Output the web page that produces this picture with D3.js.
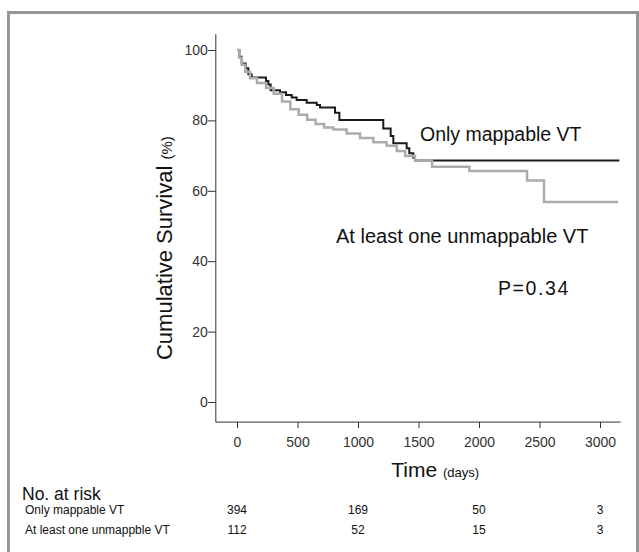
<!DOCTYPE html>
<html>
<head>
<meta charset="utf-8">
<script src="https://cdn.jsdelivr.net/npm/d3@7"></script>
<style>
  html, body { margin: 0; padding: 0; background: #fff; }
  svg { display: block; }
  text { font-family: "Liberation Sans", Arial, sans-serif; }
</style>
</head>
<body>
<svg id="chart" width="639" height="552"></svg>
<script>
// ---- data ----
const xTicks = [0, 500, 1000, 1500, 2000, 2500, 3000];
const yTicks = [0, 20, 40, 60, 80, 100];

// Only mappable VT (black) : [days, survival %]
const mappableTime = [0, 19, 39, 72, 94, 121, 240, 259, 278, 355, 405, 452, 493, 576, 659, 686, 810, 846, 1209, 1270, 1292, 1402, 1424, 1457, 1471, 3160];
const mappableSurv = [100, 98.1, 96.2, 94.8, 93.1, 92.2, 91.2, 90.2, 88.6, 88.0, 87.2, 86.5, 85.8, 85.0, 84.4, 83.7, 82.2, 80.1, 77.7, 75.6, 73.5, 72.1, 70.7, 69.4, 68.6, 68.6];

// At least one unmappable VT (grey)
const unmapTime = [0, 20, 40, 68, 108, 165, 240, 303, 372, 441, 510, 580, 650, 720, 796, 906, 1017, 1127, 1237, 1320, 1390, 1471, 1612, 1920, 2397, 2537, 3150];
const unmapSurv = [100, 97.8, 95.8, 93.8, 92.0, 90.6, 89.2, 87.6, 85.4, 83.2, 81.6, 80.2, 79.0, 78.0, 77.4, 76.3, 75.0, 73.8, 72.8, 71.3, 69.9, 68.6, 66.8, 65.6, 62.9, 56.8, 56.8];

const riskTimes = [0, 1000, 2000, 3000];
const riskMappable = [394, 169, 50, 3];
const riskUnmap = [112, 52, 15, 3];
const riskLabels = ["Only mappable VT", "At least one unmappble VT"];

const xExtent = [-175, 3170];
const yExtent = [-5.7, 104.5];

// ---- drawing ----
const svg = d3.select("#chart");

// outer grey frame
svg.append("rect")
  .attr("x", 8.5).attr("y", 12.5)
  .attr("width", 629).attr("height", 600)
  .attr("fill", "none").attr("stroke", "#969696").attr("stroke-width", 3);

const x = d3.scaleLinear().domain([0, 3000]).range([237, 600]);
const y = d3.scaleLinear().domain([0, 100]).range([402, 50]);

const x0 = x(xExtent[0]);
const yBase = y(yExtent[0]);

// y axis
const yAxis = d3.axisLeft(y).tickValues(yTicks).tickFormat(d3.format("d")).tickSize(8).tickSizeOuter(0);
const gy = svg.append("g").attr("transform", `translate(${x0},0)`).call(yAxis);
gy.select(".domain").remove();
gy.selectAll(".tick line").attr("stroke", "#333");
gy.selectAll(".tick text").attr("x", -8).attr("font-size", 14).attr("fill", "#333")
  .attr("font-family", "Liberation Sans, Arial, sans-serif");
svg.append("line")
  .attr("x1", x0).attr("x2", x0)
  .attr("y1", y(yExtent[1])).attr("y2", yBase)
  .attr("stroke", "#333").attr("stroke-width", 1);

// x axis
const xAxis = d3.axisBottom(x).tickValues(xTicks).tickFormat(d3.format("d")).tickSize(6).tickSizeOuter(0);
const gx = svg.append("g").attr("transform", `translate(0,${yBase})`).call(xAxis);
gx.select(".domain").remove();
gx.selectAll(".tick line").attr("stroke", "#333");
gx.selectAll(".tick text").attr("y", 15).attr("font-size", 14).attr("fill", "#333")
  .attr("font-family", "Liberation Sans, Arial, sans-serif");
svg.append("line")
  .attr("x1", x0).attr("x2", x(xExtent[1]))
  .attr("y1", yBase).attr("y2", yBase)
  .attr("stroke", "#333").attr("stroke-width", 1);

// curves
const line = d3.line()
  .x(d => x(d[0])).y(d => y(d[1]))
  .curve(d3.curveStepAfter);

const mapData = mappableTime.map((t, i) => [t, mappableSurv[i]]);
const unmapData = unmapTime.map((t, i) => [t, unmapSurv[i]]);

svg.append("path").datum(mapData)
  .attr("d", line).attr("fill", "none")
  .attr("stroke", "#1a1a1a").attr("stroke-width", 2);
svg.append("path").datum(unmapData)
  .attr("d", line).attr("fill", "none")
  .attr("stroke", "#acacac").attr("stroke-width", 2.5);

// annotations
svg.append("text").attr("x", 420).attr("y", 141)
  .attr("font-size", 19.5).attr("fill", "#111").text("Only mappable VT");
svg.append("text").attr("x", 336).attr("y", 243)
  .attr("font-size", 20).attr("fill", "#111").text("At least one unmappable VT");
svg.append("text").attr("x", 498).attr("y", 295)
  .attr("font-size", 19.5).attr("letter-spacing", 1.6)
  .attr("font-family", "Open Sans, sans-serif")
  .attr("fill", "#111").text("P=0.34");

// y axis title
const yt = svg.append("text")
  .attr("transform", `translate(172,${(y(yExtent[1]) + yBase) / 2 + 20}) rotate(-90)`)
  .attr("text-anchor", "middle").attr("fill", "#111");
yt.append("tspan").attr("font-size", 22).text("Cumulative Survival ");
yt.append("tspan").attr("font-size", 15).text("(%)");

// x axis title
const xt = svg.append("text")
  .attr("x", (x0 + x(xExtent[1])) / 2 + 17).attr("y", 477)
  .attr("text-anchor", "middle").attr("fill", "#111");
xt.append("tspan").attr("font-size", 21).text("Time ");
xt.append("tspan").attr("font-size", 13).text("(days)");

// number at risk table
svg.append("text").attr("x", 22).attr("y", 500)
  .attr("font-size", 17.5).attr("fill", "#111").text("No. at risk");

const rows = [riskMappable, riskUnmap];
rows.forEach((vals, r) => {
  const yy = 514 + r * 19.5;
  svg.append("text").attr("x", 25).attr("y", yy)
    .attr("font-size", 12).attr("fill", "#111").text(riskLabels[r]);
  svg.append("g").selectAll("text").data(vals).join("text")
    .attr("x", (d, i) => x(riskTimes[i]))
    .attr("y", yy)
    .attr("text-anchor", "middle")
    .attr("font-size", 12).attr("fill", "#111")
    .text(d => d);
});
</script>
</body>
</html>
